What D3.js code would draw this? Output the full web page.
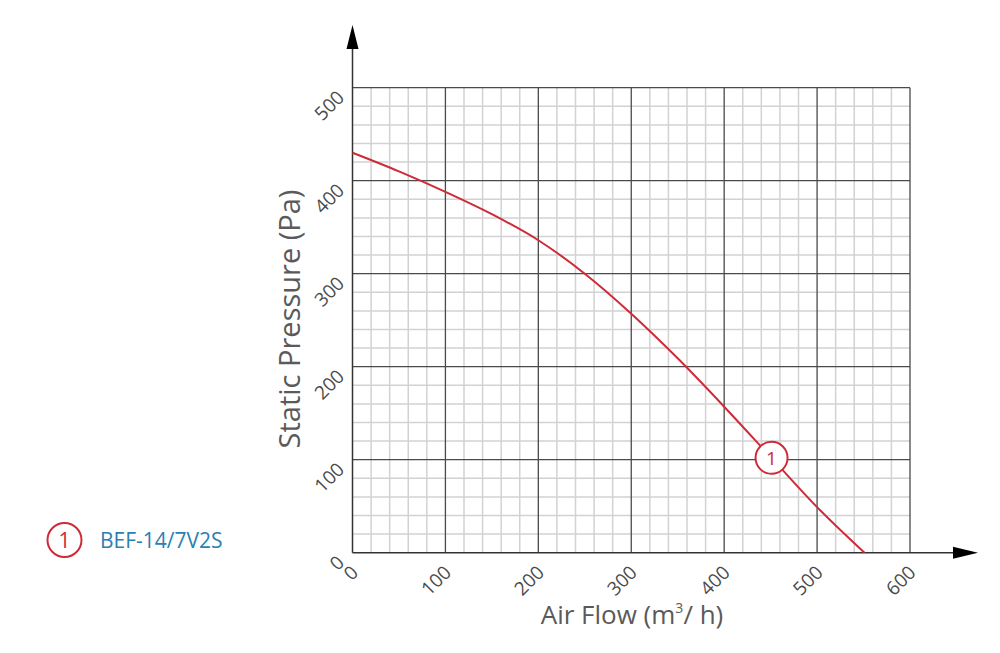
<!DOCTYPE html>
<html><head><meta charset="utf-8">
<script src="https://cdn.jsdelivr.net/npm/d3@7"></script>
<style>body{margin:0;background:#fff}svg{display:block}text{font-family:"Open Sans",sans-serif}</style>
</head><body>
<svg id="c" width="1000" height="653"></svg>
<script>
const airFlow = [0, 50, 100, 150, 200, 250, 300, 350, 400, 450, 500, 551];
const pressure = [430, 410, 388, 364, 336, 300, 257, 209, 157, 103, 49, 0];
const xTicks = [0, 100, 200, 300, 400, 500, 600];
const yTicks = [0, 100, 200, 300, 400, 500];
const seriesName = "BEF-14/7V2S";
const markerAt = {x: 451, y: 102, label: "1"};

const svg = d3.select("#c");
const x = d3.scaleLinear().domain([0, 600]).range([352.5, 910]);
const y = d3.scaleLinear().domain([0, 500]).range([552.7, 87.7]);
const red = "#cf2a37";

// minor grid
const minor = d3.range(0, 601, 20);
const minorY = d3.range(0, 501, 20);
const g = svg.append("g");
g.selectAll(".mx").data(minor.filter(v => v % 100)).join("line")
  .attr("x1", d => x(d)).attr("x2", d => x(d)).attr("y1", y(0)).attr("y2", y(500))
  .attr("stroke", "#d2d2d2").attr("stroke-width", 1.5);
g.selectAll(".my").data(minorY.filter(v => v % 100)).join("line")
  .attr("y1", d => y(d)).attr("y2", d => y(d)).attr("x1", x(0)).attr("x2", x(600))
  .attr("stroke", "#d2d2d2").attr("stroke-width", 1.5);
// major grid
g.selectAll(".Mx").data(xTicks.slice(1)).join("line")
  .attr("x1", d => x(d)).attr("x2", d => x(d)).attr("y1", y(0)).attr("y2", y(500))
  .attr("stroke", "#4a4a4a").attr("stroke-width", 1.3);
g.selectAll(".My").data(yTicks.slice(1)).join("line")
  .attr("y1", d => y(d)).attr("y2", d => y(d)).attr("x1", x(0)).attr("x2", x(600))
  .attr("stroke", "#4a4a4a").attr("stroke-width", 1.3);

// axes with arrows
svg.append("line").attr("x1", x(0)).attr("x2", x(0)).attr("y1", y(0)).attr("y2", 45)
  .attr("stroke", "#333").attr("stroke-width", 1.5);
svg.append("path").attr("d", `M${x(0)},25 L${x(0)-6},49 L${x(0)+6},49 Z`).attr("fill", "#000");
svg.append("line").attr("x1", x(0)).attr("x2", 956).attr("y1", y(0)).attr("y2", y(0))
  .attr("stroke", "#333").attr("stroke-width", 1.5);
svg.append("path").attr("d", `M978,${y(0)} L953,${y(0)-6} L953,${y(0)+6} Z`).attr("fill", "#000");

// tick labels
svg.selectAll(".xl").data(xTicks).join("text")
  .attr("transform", d => `translate(${x(d)+7},${y(0)+21}) rotate(-45)`)
  .attr("text-anchor", "end").attr("font-size", 19).attr("fill", "#4a4a4a").text(d => d);
svg.selectAll(".yl").data(yTicks).join("text")
  .attr("transform", d => `translate(${x(0)-7},${y(d)+11}) rotate(-45)`)
  .attr("text-anchor", "end").attr("font-size", 19).attr("fill", "#4a4a4a").text(d => d);

// titles
const xt = svg.append("text").attr("x", 632).attr("y", 624).attr("text-anchor", "middle")
  .attr("font-size", 26).attr("fill", "#5a5a5a");
xt.append("tspan").text("Air Flow (m");
xt.append("tspan").attr("dy", -11).attr("font-size", 14).text("3");
xt.append("tspan").attr("dy", 11).text("/ h)");
svg.append("text").attr("transform", `translate(300,319) rotate(-90)`)
  .attr("text-anchor", "middle").attr("font-size", 29).attr("fill", "#5a5a5a")
  .text("Static Pressure (Pa)");

// curve
const pts = airFlow.map((v, i) => [v, pressure[i]]);
svg.append("path").datum(pts)
  .attr("d", d3.line().x(d => x(d[0])).y(d => y(d[1])).curve(d3.curveMonotoneX))
  .attr("fill", "none").attr("stroke", red).attr("stroke-width", 2);

// marker
svg.append("circle").attr("cx", x(markerAt.x)).attr("cy", y(markerAt.y)).attr("r", 16)
  .attr("fill", "#fff").attr("stroke", red).attr("stroke-width", 2);
svg.append("text").attr("x", x(markerAt.x)).attr("y", y(markerAt.y) + 7).attr("text-anchor", "middle")
  .attr("font-size", 19).attr("fill", red).text(markerAt.label);

// legend
svg.append("circle").attr("cx", 64.5).attr("cy", 540).attr("r", 17)
  .attr("fill", "#fff").attr("stroke", red).attr("stroke-width", 2);
svg.append("text").attr("x", 64.5).attr("y", 547.5).attr("text-anchor", "middle")
  .attr("font-size", 21).attr("fill", red).text(markerAt.label);
svg.append("text").attr("x", 100).attr("y", 548).attr("font-size", 21).attr("fill", "#2a7fb3").text(seriesName);
</script>
</body></html>
